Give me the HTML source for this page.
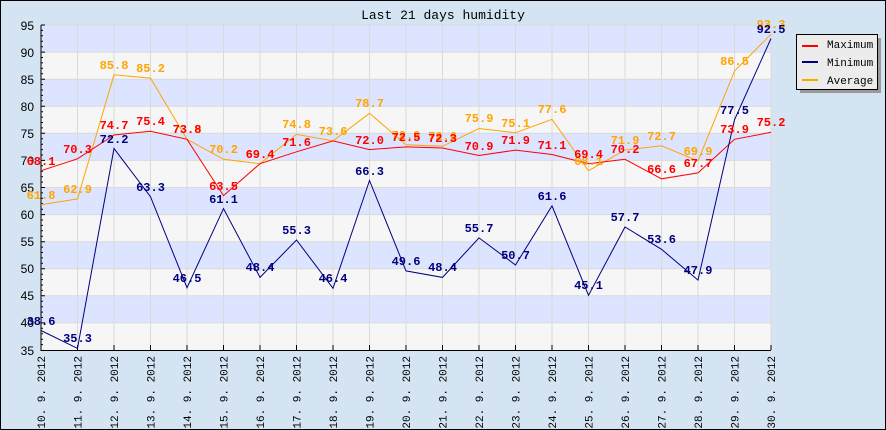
<!DOCTYPE html>
<html><head><meta charset="utf-8"><style>
html,body{margin:0;padding:0;background:#d4e4f2}
svg{display:block}
.l{font-family:"Liberation Mono",monospace;font-weight:bold;font-size:12px;text-anchor:middle}
.y{font-family:"Liberation Sans",sans-serif;font-size:12px;text-anchor:end}
.x{font-family:"Liberation Mono",monospace;font-size:11px;text-anchor:end}
</style></head><body>
<svg width="886" height="430" xmlns="http://www.w3.org/2000/svg">
<rect x="0.5" y="0.5" width="885" height="429" fill="#d4e4f2" stroke="#000"/>
<text x="443" y="19" font-family="Liberation Mono,monospace" font-size="13" text-anchor="middle">Last 21 days humidity</text>
<g>
<rect x="41" y="25" width="730" height="27.1" fill="#dde4ff"/>
<rect x="41" y="52.1" width="730" height="27.1" fill="#f6f6f6"/>
<rect x="41" y="79.2" width="730" height="27.1" fill="#dde4ff"/>
<rect x="41" y="106.3" width="730" height="27" fill="#f6f6f6"/>
<rect x="41" y="133.3" width="730" height="27.1" fill="#dde4ff"/>
<rect x="41" y="160.4" width="730" height="27.1" fill="#f6f6f6"/>
<rect x="41" y="187.5" width="730" height="27.1" fill="#dde4ff"/>
<rect x="41" y="214.6" width="730" height="27.1" fill="#f6f6f6"/>
<rect x="41" y="241.7" width="730" height="27" fill="#dde4ff"/>
<rect x="41" y="268.7" width="730" height="27.1" fill="#f6f6f6"/>
<rect x="41" y="295.8" width="730" height="27.1" fill="#dde4ff"/>
<rect x="41" y="322.9" width="730" height="27.1" fill="#f6f6f6"/>
</g>
<g stroke="#dadada" stroke-width="1" fill="none">
<path d="M41 52.1H771M41 79.2H771M41 106.3H771M41 133.3H771M41 160.4H771M41 187.5H771M41 214.6H771M41 241.7H771M41 268.7H771M41 295.8H771M41 322.9H771M41 25H771"/>
<path d="M77.5 25V350M114 25V350M150.5 25V350M187 25V350M223.5 25V350M260 25V350M296.5 25V350M333 25V350M369.5 25V350M406 25V350M442.5 25V350M479 25V350M515.5 25V350M552 25V350M588.5 25V350M625 25V350M661.5 25V350M698 25V350M734.5 25V350M771 25V350"/>
</g>
<g stroke="#000" stroke-width="1" fill="none">
<path d="M41 25V350.5H771"/>
<path d="M41 25h4M41 52.1h4M41 79.2h4M41 106.3h4M41 133.3h4M41 160.4h4M41 187.5h4M41 214.6h4M41 241.7h4M41 268.7h4M41 295.8h4M41 322.9h4"/>
<path d="M41 30.4h2M41 35.8h2M41 41.3h2M41 46.7h2M41 57.5h2M41 62.9h2M41 68.3h2M41 73.8h2M41 84.6h2M41 90h2M41 95.4h2M41 100.8h2M41 111.7h2M41 117.1h2M41 122.5h2M41 127.9h2M41 138.8h2M41 144.2h2M41 149.6h2M41 155h2M41 165.8h2M41 171.3h2M41 176.7h2M41 182.1h2M41 192.9h2M41 198.3h2M41 203.8h2M41 209.2h2M41 220h2M41 225.4h2M41 230.8h2M41 236.3h2M41 247.1h2M41 252.5h2M41 257.9h2M41 263.3h2M41 274.2h2M41 279.6h2M41 285h2M41 290.4h2M41 301.3h2M41 306.7h2M41 312.1h2M41 317.5h2M41 328.3h2M41 333.8h2M41 339.2h2M41 344.6h2"/>
<path d="M77.5 350v-5M114 350v-5M150.5 350v-5M187 350v-5M223.5 350v-5M260 350v-5M296.5 350v-5M333 350v-5M369.5 350v-5M406 350v-5M442.5 350v-5M479 350v-5M515.5 350v-5M552 350v-5M588.5 350v-5M625 350v-5M661.5 350v-5M698 350v-5M734.5 350v-5M771 350v-5"/>
</g>
<g class="y">
<text x="34" y="30">95</text><text x="34" y="57">90</text><text x="34" y="84">85</text><text x="34" y="111">80</text><text x="34" y="138">75</text><text x="34" y="165">70</text><text x="34" y="192">65</text><text x="34" y="219">60</text><text x="34" y="246">55</text><text x="34" y="273">50</text><text x="34" y="300">45</text><text x="34" y="327">40</text><text x="34" y="355">35</text>
</g>
<g class="x">
<text transform="translate(45,356) rotate(-90)">10. 9. 2012</text>
<text transform="translate(81.5,356) rotate(-90)">11. 9. 2012</text>
<text transform="translate(118,356) rotate(-90)">12. 9. 2012</text>
<text transform="translate(154.5,356) rotate(-90)">13. 9. 2012</text>
<text transform="translate(191,356) rotate(-90)">14. 9. 2012</text>
<text transform="translate(227.5,356) rotate(-90)">15. 9. 2012</text>
<text transform="translate(264,356) rotate(-90)">16. 9. 2012</text>
<text transform="translate(300.5,356) rotate(-90)">17. 9. 2012</text>
<text transform="translate(337,356) rotate(-90)">18. 9. 2012</text>
<text transform="translate(373.5,356) rotate(-90)">19. 9. 2012</text>
<text transform="translate(410,356) rotate(-90)">20. 9. 2012</text>
<text transform="translate(446.5,356) rotate(-90)">21. 9. 2012</text>
<text transform="translate(483,356) rotate(-90)">22. 9. 2012</text>
<text transform="translate(519.5,356) rotate(-90)">23. 9. 2012</text>
<text transform="translate(556,356) rotate(-90)">24. 9. 2012</text>
<text transform="translate(592.5,356) rotate(-90)">25. 9. 2012</text>
<text transform="translate(629,356) rotate(-90)">26. 9. 2012</text>
<text transform="translate(665.5,356) rotate(-90)">27. 9. 2012</text>
<text transform="translate(702,356) rotate(-90)">28. 9. 2012</text>
<text transform="translate(738.5,356) rotate(-90)">29. 9. 2012</text>
<text transform="translate(775,356) rotate(-90)">30. 9. 2012</text>
</g>
<polyline fill="none" stroke="#ffa500" stroke-width="1" points="41,204.8 77.5,198.9 114,74.8 150.5,78.1 187,139.3 223.5,159.3 260,163.7 296.5,134.4 333,140.9 369.5,113.3 406,144.7 442.5,146.3 479,128.5 515.5,132.8 552,119.3 588.5,170.7 625,150.1 661.5,145.8 698,161 734.5,71 771,34.2"/>
<polyline fill="none" stroke="#ff0000" stroke-width="1" points="41,170.7 77.5,158.8 114,135 150.5,131.2 187,139.3 223.5,195.6 260,163.7 296.5,151.8 333,140.9 369.5,149.6 406,146.9 442.5,148 479,155.5 515.5,150.1 552,154.5 588.5,163.7 625,159.3 661.5,178.8 698,172.9 734.5,139.3 771,132.3"/>
<polyline fill="none" stroke="#000080" stroke-width="1" points="41,330.5 77.5,348.4 114,148.5 150.5,196.7 187,287.7 223.5,208.6 260,277.4 296.5,240 333,288.3 369.5,180.5 406,270.9 442.5,277.4 479,237.9 515.5,265 552,205.9 588.5,295.3 625,227 661.5,249.3 698,280.1 734.5,119.8 771,38.5"/>
<g class="l" fill="#ffa500">
<text x="41" y="199">61.8</text><text x="77.5" y="193">62.9</text><text x="114" y="69">85.8</text><text x="150.5" y="72">85.2</text><text x="187" y="133">73.9</text><text x="223.5" y="153">70.2</text><text x="260" y="158">69.4</text><text x="296.5" y="128">74.8</text><text x="333" y="135">73.6</text><text x="369.5" y="107">78.7</text><text x="406" y="139">72.9</text><text x="442.5" y="140">72.6</text><text x="479" y="122">75.9</text><text x="515.5" y="127">75.1</text><text x="552" y="113">77.6</text><text x="588.5" y="165">68.1</text><text x="625" y="144">71.9</text><text x="661.5" y="140">72.7</text><text x="698" y="155">69.9</text><text x="734.5" y="65">86.5</text><text x="771" y="28">93.3</text>
</g>
<g class="l" fill="#ff0000">
<text x="41" y="165">68.1</text><text x="77.5" y="153">70.3</text><text x="114" y="129">74.7</text><text x="150.5" y="125">75.4</text><text x="187" y="133">73.8</text><text x="223.5" y="190">63.5</text><text x="260" y="158">69.4</text><text x="296.5" y="146">71.6</text><text x="369.5" y="144">72.0</text><text x="406" y="141">72.5</text><text x="442.5" y="142">72.3</text><text x="479" y="150">70.9</text><text x="515.5" y="144">71.9</text><text x="552" y="149">71.1</text><text x="588.5" y="158">69.4</text><text x="625" y="153">70.2</text><text x="661.5" y="173">66.6</text><text x="698" y="167">67.7</text><text x="734.5" y="133">73.9</text><text x="771" y="126">75.2</text>
</g>
<g class="l" fill="#000080">
<text x="41" y="325">38.6</text><text x="77.5" y="342">35.3</text><text x="114" y="143">72.2</text><text x="150.5" y="191">63.3</text><text x="187" y="282">46.5</text><text x="223.5" y="203">61.1</text><text x="260" y="271">48.4</text><text x="296.5" y="234">55.3</text><text x="333" y="282">46.4</text><text x="369.5" y="175">66.3</text><text x="406" y="265">49.6</text><text x="442.5" y="271">48.4</text><text x="479" y="232">55.7</text><text x="515.5" y="259">50.7</text><text x="552" y="200">61.6</text><text x="588.5" y="289">45.1</text><text x="625" y="221">57.7</text><text x="661.5" y="243">53.6</text><text x="698" y="274">47.9</text><text x="734.5" y="114">77.5</text><text x="771" y="33">92.5</text>
</g>
<rect x="800" y="38" width="81" height="55" fill="#999"/>
<rect x="796.5" y="34.5" width="81" height="55" fill="#ececec" stroke="#000"/>
<g stroke-width="2"><path d="M802 46h16" stroke="#ff0000"/><path d="M802 62h16" stroke="#000080"/><path d="M802 80h16" stroke="#ffa500"/></g>
<g font-family="Liberation Mono,monospace" font-size="11"><text x="827" y="48">Maximum</text><text x="827" y="66">Minimum</text><text x="827" y="84">Average</text></g>
</svg>
</body></html>
